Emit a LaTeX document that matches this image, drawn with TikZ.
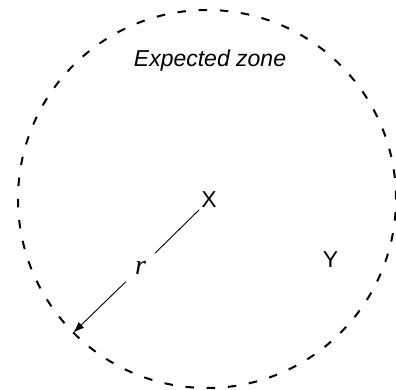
\documentclass[tikz,border=0pt]{standalone}
\usepackage{fontspec}
\setmainfont{Liberation Sans}
\newfontfamily\rserif{Liberation Serif}
\usetikzlibrary{arrows.meta,calc}
\begin{document}
\begin{tikzpicture}[x=1pt,y=1pt,
  zone/.style={dash pattern=on 8.5pt off 12.7pt, line width=2pt},
  lbl/.style={font=\fontsize{23}{27}\selectfont, inner sep=2pt},
  radius label/.style={font=\rserif\itshape\fontsize{28}{32}\selectfont, minimum size=29pt, inner sep=0pt},
  radiusline/.style={line width=0.9pt}]
\useasboundingbox (0,0) rectangle (396,390);
\coordinate (C) at (207,191);
\draw[zone] (C) circle[radius=189];
\coordinate (T) at ($(C)+(-135:189)$);
\node[lbl, anchor=base] (X) at (209,182) {X};
\node[lbl, anchor=base] (Y) at (330.5,122) {Y};
\node[lbl, anchor=base] (E) at (210,323) {\itshape Expected zone};
\node[radius label] (R) at (140.5,122.5) {r};
\draw[radiusline] (X) -- (R);
\draw[radiusline, -{Latex[length=11pt,width=8pt]}] (R) -- (T);
\end{tikzpicture}
\end{document}
